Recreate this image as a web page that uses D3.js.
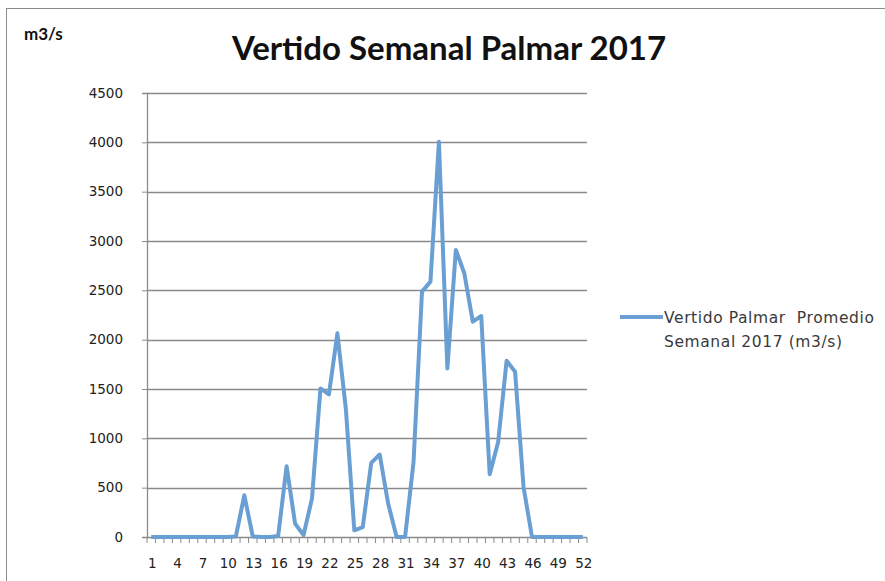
<!DOCTYPE html>
<html>
<head>
<meta charset="utf-8">
<script src="https://cdn.jsdelivr.net/npm/d3@7"></script>
<style>
  body { margin: 0; background: #fff; }
  svg { font-family: "DejaVu Sans", sans-serif; }
</style>
</head>
<body>
<div id="chart"></div>
<script>
// weekly spill values, week 1..52 (m3/s)
const weeks = d3.range(1, 53);
const vertido = [
  0, 0, 0, 0, 0, 0, 0, 0, 0, 0, 5, 423, 5, 0, 0, 10, 717, 136, 20, 390,
  1506, 1445, 2064, 1300, 68, 101, 751, 836, 339, 0, 0, 760, 2487, 2588, 4005, 1709,
  2910, 2673, 2182, 2240, 636, 964, 1786, 1675, 507, 0, 0, 0, 0, 0, 0, 0
];
const yTicks = [0, 500, 1000, 1500, 2000, 2500, 3000, 3500, 4000, 4500];
const xLabels = weeks.filter((d, i) => i % 3 === 0);
const seriesName = ["Vertido Palmar  Promedio", "Semanal 2017 (m3/s)"];

const W = 885, H = 581;
const margin = { top: 93, right: 298, bottom: 44, left: 147 };
const width = W - margin.left - margin.right,
      height = H - margin.top - margin.bottom;

const svg = d3.select("#chart").append("svg")
    .attr("width", W)
    .attr("height", H);

// chart border
svg.append("rect")
    .attr("x", 6.5).attr("y", 8.5)
    .attr("width", W).attr("height", H)
    .attr("fill", "none")
    .attr("stroke", "#8c8c8c")
    .attr("stroke-width", 1);

const g = svg.append("g")
    .attr("transform", `translate(${margin.left},${margin.top})`);

const x = d3.scaleBand().domain(weeks).range([0, width]).paddingInner(0);
const y = d3.scaleLinear().domain([0, 4500]).range([height, 0]);

// horizontal grid
g.append("g")
    .selectAll("line")
    .data(yTicks.filter(d => d > 0))
    .join("line")
    .attr("x1", 0).attr("x2", width)
    .attr("y1", d => Math.round(y(d)) + 0.5)
    .attr("y2", d => Math.round(y(d)) + 0.5)
    .attr("stroke", "#8a8a8a")
    .attr("stroke-width", 1.3);

// y axis
const yAxis = g.append("g")
    .call(d3.axisLeft(y).tickValues(yTicks).tickFormat(d3.format("d")).tickSize(5).tickPadding(19));
yAxis.select(".domain").attr("stroke", "#8a8a8a").attr("stroke-width", 1.3);
yAxis.selectAll(".tick line").attr("stroke", "#8a8a8a");
yAxis.selectAll(".tick text")
    .attr("fill", "#222")
    .style("font-family", "'DejaVu Sans', sans-serif")
    .style("font-size", "13.5px");

// x axis, ticks on band boundaries
const xg = g.append("g").attr("transform", `translate(0,${height})`);
xg.append("line")
    .attr("x1", 0).attr("x2", width)
    .attr("y1", 0.5).attr("y2", 0.5)
    .attr("stroke", "#8a8a8a").attr("stroke-width", 1.3);
xg.selectAll(".bt")
    .data(weeks.concat([53]))
    .join("line")
    .attr("class", "bt")
    .attr("x1", d => d === 53 ? width : x(d))
    .attr("x2", d => d === 53 ? width : x(d))
    .attr("y1", 0).attr("y2", 6)
    .attr("stroke", "#8a8a8a");
xg.selectAll("text")
    .data(xLabels)
    .join("text")
    .attr("x", d => x(d) + x.bandwidth() / 2 + 1)
    .attr("y", 31)
    .attr("text-anchor", "middle")
    .attr("fill", "#222")
    .style("font-size", "13.5px")
    .text(d => d);

// the series line
const line = d3.line()
    .x((d, i) => x(weeks[i]) + x.bandwidth() / 2)
    .y(d => y(d));

g.append("path")
    .datum(vertido)
    .attr("fill", "none")
    .attr("stroke", "#6a9fd3")
    .attr("stroke-width", 4)
    .attr("stroke-linejoin", "round")
    .attr("d", line);

// title
svg.append("text")
    .attr("x", 449)
    .attr("y", 60)
    .attr("text-anchor", "middle")
    .style("font-family", "Lato, sans-serif")
    .style("font-size", "33px")
    .style("font-weight", "bold")
    .attr("fill", "#111")
    .text("Vertido Semanal Palmar 2017");

// unit label
svg.append("text")
    .attr("x", 24)
    .attr("y", 40)
    .style("font-family", "Lato, sans-serif")
    .style("font-size", "17px")
    .style("font-weight", "bold")
    .attr("fill", "#111")
    .text("m3/s");

// legend
const lg = svg.append("g").attr("transform", "translate(620,317)");
lg.append("line")
    .attr("x1", 0).attr("x2", 43)
    .attr("y1", 0).attr("y2", 0)
    .attr("stroke", "#6a9fd3")
    .attr("stroke-width", 4);
lg.selectAll("text")
    .data(seriesName)
    .join("text")
    .attr("x", 44)
    .attr("y", (d, i) => 6 + i * 24)
    .attr("fill", "#3a3a3a")
    .style("font-size", "15.5px")
    .style("letter-spacing", "0.6px")
    .style("white-space", "pre")
    .text(d => d);
</script>
</body>
</html>
